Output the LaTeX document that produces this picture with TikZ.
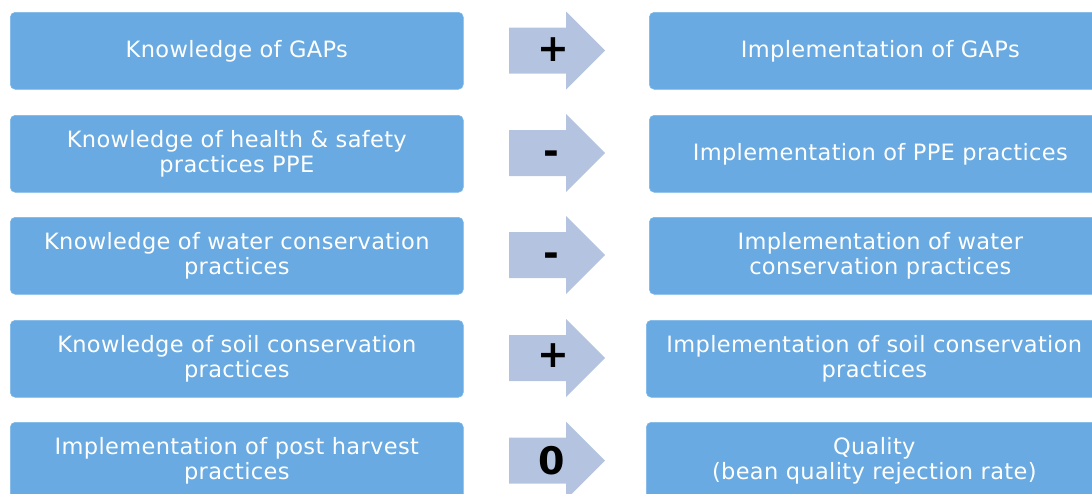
\documentclass[tikz,border=0pt]{standalone}
\usepackage{fontspec}
\setmainfont{DejaVu Sans}
\definecolor{boxblue}{RGB}{104,170,225}
\definecolor{boxedge}{RGB}{125,184,232}
\definecolor{arrowfill}{RGB}{180,196,224}
\begin{document}
\begin{tikzpicture}[x=1pt,y=-1pt,
  box/.style={draw=boxedge, line width=0.6pt, fill=boxblue, rounded corners=5pt,
    text=white, align=center, font=\fontsize{22.5}{25}\selectfont\addfontfeature{LetterSpace=1.5},
    anchor=north west, minimum height=77pt, inner sep=0pt},
  lbox/.style={box, minimum width=453pt},
  sign/.style={font=\bfseries\fontsize{38}{38}\selectfont, text=black, inner sep=0pt},
  blockarrow/.style={fill=arrowfill}]
\useasboundingbox (0,0) rectangle (1092,493);
\clip (0,0) rectangle (1092,493);
% left boxes
\node[lbox] (l1) at (10,12)  {Knowledge of GAPs};
\node[lbox] (l2) at (10,115) {Knowledge of health \& safety\\practices PPE};
\node[lbox] (l3) at (10,217) {Knowledge of water conservation\\practices};
\node[lbox] (l4) at (10,320) {Knowledge of soil conservation\\practices};
\node[lbox] (l5) at (10,422) {Implementation of post harvest\\practices};
% right boxes
\node[box, minimum width=462pt] (r1) at (649,12)  {Implementation of GAPs};
\node[box, minimum width=462pt] (r2) at (649,115) {Implementation of PPE practices};
\node[box, minimum width=462pt] (r3) at (649,217) {Implementation of water\\conservation practices};
\node[box, minimum width=456pt] (r4) at (646,320) {Implementation of soil conservation\\practices};
\node[box, minimum width=456pt] (r5) at (646,422) {Quality\\(bean quality rejection rate)};
% arrows
\foreach \c in {50.5,153,255,358,460.5}{
  \fill[blockarrow] (509,\c-23) -- (566,\c-23) -- (566,\c-39) -- (605,\c)
    -- (566,\c+39) -- (566,\c+23) -- (509,\c+23) -- cycle;
}
\node[sign] (s1) at (553,50)  {+};
\node[sign] (s2) at (551,157.5) {-};
\node[sign] (s3) at (551,259.5) {-};
\node[sign] (s4) at (553,356) {+};
\node[sign] (s5) at (551.5,461) {0};
\end{tikzpicture}
\end{document}
